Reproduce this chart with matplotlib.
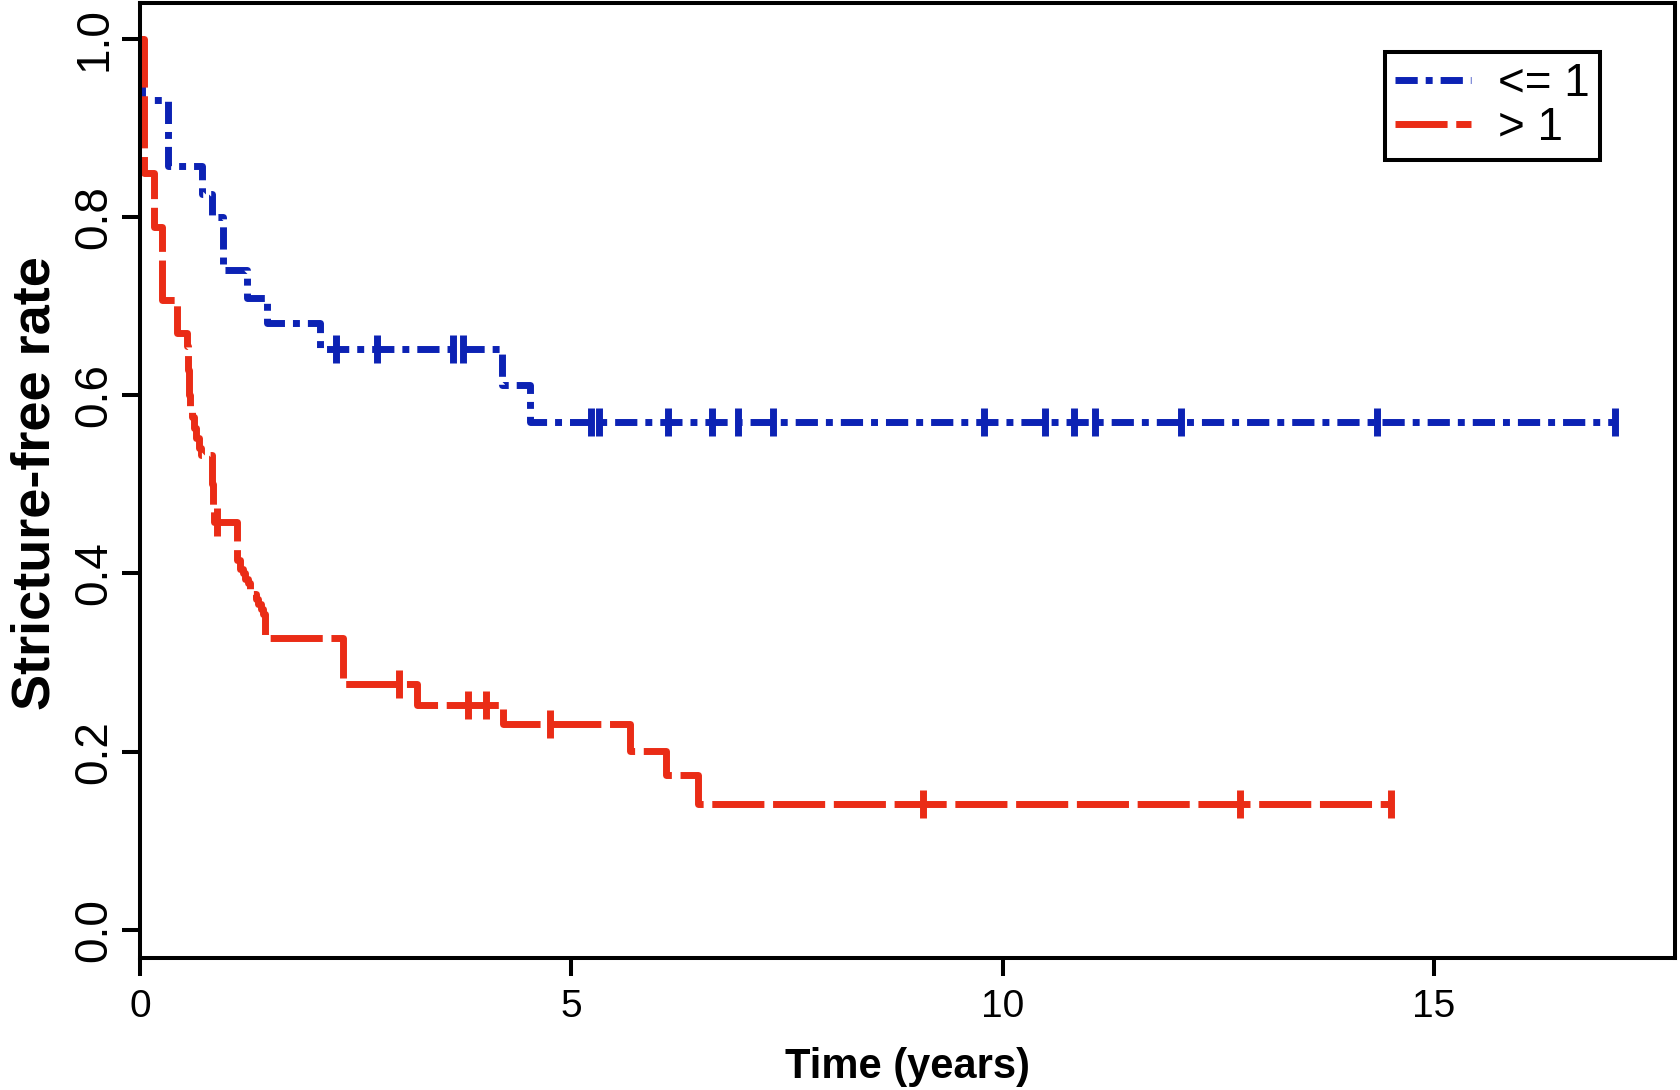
import numpy as np
import matplotlib
matplotlib.use("Agg")
import matplotlib.pyplot as plt

plt.rcParams['font.family'] = ['Liberation Sans', 'DejaVu Sans']

# Kaplan-Meier estimates
blue_t = [0, 0.02, 0.32, 0.72, 0.83, 0.96, 1.24, 1.47, 2.09, 4.20, 4.52, 17.10]
blue_s = [1.0, 0.931, 0.857, 0.826, 0.800, 0.740, 0.709, 0.681, 0.652, 0.611, 0.570, 0.570]
blue_cens = [2.27, 2.75, 3.63, 3.75, 5.23, 5.32, 6.12, 6.63, 6.93, 7.34, 9.78,
             10.49, 10.83, 11.07, 12.07, 14.34, 17.10]

red_t = [0, 0.05, 0.16, 0.25, 0.43, 0.55, 0.555, 0.56, 0.565, 0.57, 0.58, 0.60,
         0.625, 0.65, 0.68, 0.71, 0.83, 0.845, 0.86, 1.13, 1.16, 1.19, 1.22, 1.25,
         1.28, 1.31, 1.34, 1.37, 1.40, 1.43, 1.45, 2.35, 3.21, 4.21, 5.68, 6.10, 6.47, 14.50]
red_s = [1.0, 0.849, 0.789, 0.707, 0.670, 0.655, 0.640, 0.628, 0.615, 0.600, 0.587, 0.575,
         0.563, 0.552, 0.541, 0.533, 0.500, 0.475, 0.458, 0.415, 0.405, 0.400, 0.394, 0.389,
         0.383, 0.377, 0.371, 0.366, 0.360, 0.354, 0.328, 0.276, 0.252, 0.231, 0.201,
         0.174, 0.141, 0.141]
red_cens = [0.89, 3.00, 3.80, 4.01, 4.75, 9.08, 12.75, 14.50]

labels = ['<= 1', '> 1']
xticks = [0, 5, 10, 15]
yticks = [0.0, 0.2, 0.4, 0.6, 0.8, 1.0]

BLUE = '#0C22B4'
RED = '#EA2C16'


def surv_at(t, s, x):
    idx = np.searchsorted(t, x, side='right') - 1
    return np.asarray(s)[idx]


fig = plt.figure(figsize=(16.81, 10.90), dpi=100)
ax = fig.add_axes([140 / 1681, 1 - 957.5 / 1090, 1535.5 / 1681, 954.5 / 1090])

lw = 5.0
ax.step(blue_t, blue_s, where='post', color=BLUE, lw=lw,
        linestyle=(0, (3.2, 1.15, 1.0, 1.15)), dash_capstyle='butt', label=labels[0])
ax.step(red_t, red_s, where='post', color=RED, lw=lw,
        linestyle=(0, (7.5, 1.25)), dash_capstyle='butt', label=labels[1])

ax.plot(blue_cens, surv_at(blue_t, blue_s, blue_cens), ls='none', marker='|',
        ms=20, mew=lw, color=BLUE)
ax.plot(red_cens, surv_at(red_t, red_s, red_cens), ls='none', marker='|',
        ms=20, mew=lw, color=RED)

ax.set_xlim(0, 17.8)
ax.set_ylim(-0.031, 1.040)
ax.set_xticks(xticks)
ax.set_xticklabels([str(v) for v in xticks], fontsize=28)
ax.set_yticks(yticks)
ax.set_yticklabels(['%.1f' % v for v in yticks], fontsize=33, rotation=90, va='center')

for sp in ax.spines.values():
    sp.set_linewidth(2.9)
ax.tick_params(axis='both', length=13, width=2.9, color='black')
ax.tick_params(axis='x', pad=10)
ax.tick_params(axis='y', pad=4)

ax.set_xlabel('Time (years)', fontsize=30, fontweight='bold')
ax.xaxis.set_label_coords(0.5, -0.094)
ax.set_ylabel('Stricture-free rate', fontsize=39, fontweight='bold')
ax.yaxis.set_label_coords(-0.052, 0.497)

leg = ax.legend(loc='upper right', bbox_to_anchor=(0.951, 0.9486), borderaxespad=0,
                fontsize=33, handlelength=1.65, handletextpad=0.6, borderpad=0.22,
                labelspacing=0.0, fancybox=False, framealpha=1)
leg.get_frame().set_edgecolor('black')
leg.get_frame().set_linewidth(2.9)

fig.savefig('out.png', dpi=100)
